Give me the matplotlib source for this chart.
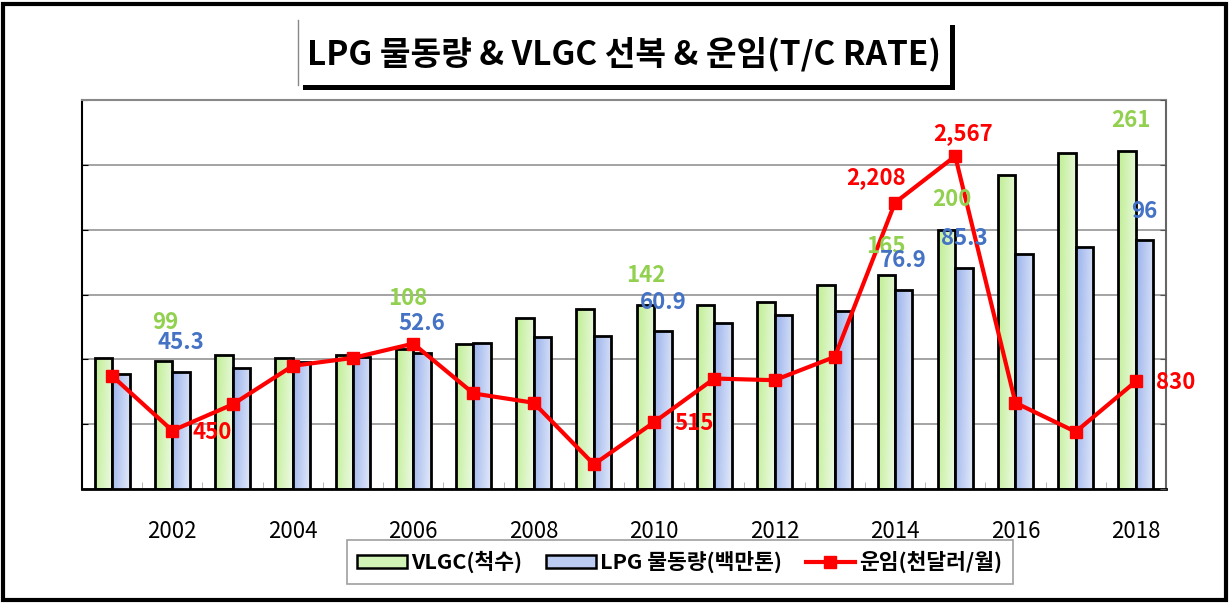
import numpy as np
import matplotlib
matplotlib.use('Agg')
from matplotlib import pyplot as plt
from matplotlib.patches import Patch, Rectangle
from matplotlib.lines import Line2D
from matplotlib.colors import LinearSegmentedColormap

plt.rcParams['font.family'] = ['Noto Sans CJK KR', 'DejaVu Sans']

years = list(range(2001, 2019))
vlgc = [101, 99, 103, 101, 103, 108, 112, 132, 139, 142, 142, 144, 157, 165, 200, 242, 259, 261]
lpg = [44.3, 45.3, 46.8, 48.8, 51.0, 52.6, 56.3, 58.5, 59.0, 60.9, 64.2, 67.2, 68.5, 76.9, 85.3, 90.7, 93.2, 96.0]
rate = [872, 450, 652, 950, 1011, 1121, 737, 665, 190, 515, 852, 839, 1019, 2208, 2567, 665, 441, 830]
year_ticks = [2002, 2004, 2006, 2008, 2010, 2012, 2014, 2016, 2018]

vlgc_label_years = [2002, 2006, 2010, 2014, 2015, 2018]
lpg_label_years = [2002, 2006, 2010, 2014, 2015, 2018]
rate_label_years = [2002, 2010, 2014, 2015, 2018]

title = 'LPG 물동량 & VLGC 선복 & 운임(T/C RATE)'
legend_labels = ['VLGC(척수)', 'LPG 물동량(백만톤)', '운임(천달러/월)']

GREEN_TXT = '#92D050'
BLUE_TXT = '#4472C4'
RED = '#FF0000'


def fill_gradient(ax, bars, colors):
    cmap = LinearSegmentedColormap.from_list('grad', colors)
    gx = np.linspace(0, 1, 64)
    gy = np.linspace(0, 1, 64)
    grad = 0.8 * gx[None, :] + 0.2 * gy[:, None]
    for b in bars:
        x, y = b.get_xy()
        w, h = b.get_width(), b.get_height()
        im = ax.imshow(grad, cmap=cmap, extent=(x, x + w, y, y + h),
                       origin='upper', aspect='auto', zorder=1.9, interpolation='bilinear')
        im.set_clip_path(b)


fig = plt.figure(figsize=(12.29, 6.04), dpi=100)
ax = fig.add_axes([82 / 1229, 1 - 489 / 604, (1166 - 82) / 1229, (489 - 100) / 604])
ax_lpg = ax.twinx()
ax_rate = ax.twinx()

w = 0.29
x = np.array(years, dtype=float)
bars_v = ax.bar(x - w / 2, vlgc, width=w, facecolor='none', edgecolor='black', linewidth=2, zorder=2)
bars_l = ax_lpg.bar(x + w / 2, lpg, width=w, facecolor='none', edgecolor='black', linewidth=2, zorder=2)
fill_gradient(ax, bars_v, ['#bfee92', '#eefae6'])
fill_gradient(ax_lpg, bars_l, ['#9ab2ec', '#e2e9f9'])

ax_rate.plot(years, rate, color=RED, lw=3, marker='s', ms=9, zorder=5)

for a in (ax, ax_lpg, ax_rate):
    a.set_xlim(2000.5, 2018.5)
ax.set_ylim(0, 300)
ax_lpg.set_ylim(0, 150)
ax_rate.set_ylim(0, 3000)

ax.set_yticks(np.arange(0, 301, 50))
ax.yaxis.grid(True, color='#8a8a8a', lw=1.1)
ax.set_axisbelow(True)
ax.tick_params(axis='y', left=True, direction='in', length=4, labelleft=False, color='black')
ax_lpg.tick_params(axis='y', right=False, labelright=False)
ax_rate.set_yticks(np.arange(0, 3001, 500))
ax_rate.tick_params(axis='y', right=True, direction='in', length=4, labelright=False, color='#555555')

ax.set_xticks(year_ticks)
ax.set_xticklabels([str(y) for y in year_ticks], fontsize=16)
ax.set_xticks(np.arange(2000.5, 2018.6, 1.0), minor=True)
ax.tick_params(axis='x', which='major', length=0, pad=22)
ax.tick_params(axis='x', which='minor', direction='in', length=5, color='#aaaaaa')
for a in (ax_lpg, ax_rate):
    a.tick_params(axis='x', which='both', bottom=False, labelbottom=False)

for a in (ax_lpg, ax_rate):
    for s in a.spines.values():
        s.set_visible(False)
ax.spines['left'].set_color('black')
ax.spines['left'].set_linewidth(1.5)
ax.spines['bottom'].set_color('black')
ax.spines['bottom'].set_linewidth(2)
ax.spines['top'].set_color('#888888')
ax.spines['top'].set_linewidth(1.5)
ax.spines['right'].set_color('#666666')
ax.spines['right'].set_linewidth(1.5)

# data labels, offsets in pixels from the mark
vlgc_off = {2002: (2, 38), 2006: (3, 50), 2010: (0, 29), 2014: (0, 29), 2015: (5, 30), 2018: (4, 30)}
rate_off = {2002: (40, -2), 2010: (40, -1), 2014: (-19, 25), 2015: (8, 23), 2018: (40, -1)}
lbl_kw = dict(textcoords='offset pixels', ha='center', va='center', fontsize=16,
              fontweight='bold', zorder=10, annotation_clip=False)
for yr in vlgc_label_years:
    v = vlgc[years.index(yr)]
    ax_rate.annotate(f'{v:g}', xy=(yr - w / 2, v), xycoords=ax.transData,
                     xytext=vlgc_off[yr], color=GREEN_TXT, **lbl_kw)
for yr in lpg_label_years:
    v = lpg[years.index(yr)]
    ax_rate.annotate(f'{v:g}', xy=(yr + w / 2, v), xycoords=ax_lpg.transData,
                     xytext=(0, 29), color=BLUE_TXT, **lbl_kw)
for yr in rate_label_years:
    v = rate[years.index(yr)]
    ax_rate.annotate(f'{v:,}', xy=(yr, v), xycoords=ax_rate.transData,
                     xytext=rate_off[yr], color=RED, **lbl_kw)

# title box with shadow
tx0, tx1 = 298 / 1229, 950 / 1229
ty0, ty1 = 1 - 85 / 604, 1 - 20 / 604
sh = 5
fig.patches.append(Rectangle((tx0 + sh / 1229, ty0 - sh / 604), tx1 - tx0, ty1 - ty0,
                             transform=fig.transFigure, facecolor='black', edgecolor='none', zorder=1))
fig.patches.append(Rectangle((tx0, ty0), tx1 - tx0, ty1 - ty0,
                             transform=fig.transFigure, facecolor='white', edgecolor='none', zorder=2))
fig.lines.append(Line2D([tx0, tx0], [ty0, ty1], transform=fig.transFigure, color='#888888', lw=1, zorder=3))
fig.text((tx0 + tx1) / 2, 1 - 54 / 604, title, ha='center', va='center',
         fontsize=24, fontweight='bold', zorder=4)

# outer frame
fig.patches.append(Rectangle((3 / 1229, 4 / 604), 1223 / 1229, 596 / 604, transform=fig.transFigure,
                             facecolor='none', edgecolor='black', lw=3, zorder=0))

handles = [
    Patch(facecolor='#d2f3b6', edgecolor='black', lw=1.8),
    Patch(facecolor='#bccbf2', edgecolor='black', lw=1.8),
    Line2D([0], [0], color=RED, lw=3, marker='s', ms=9),
]
leg = fig.legend(handles, legend_labels, loc='center', bbox_to_anchor=(680 / 1229, 1 - 562 / 604),
                 ncol=3, frameon=True, fancybox=False, edgecolor='#888888', handlelength=2.3,
                 handleheight=0.6, handletextpad=0.2, columnspacing=1.1, borderpad=0.5,
                 prop={'size': 15.5, 'weight': 'bold'})
leg.get_frame().set_linewidth(1.2)

fig.savefig('out.png', dpi=100)
